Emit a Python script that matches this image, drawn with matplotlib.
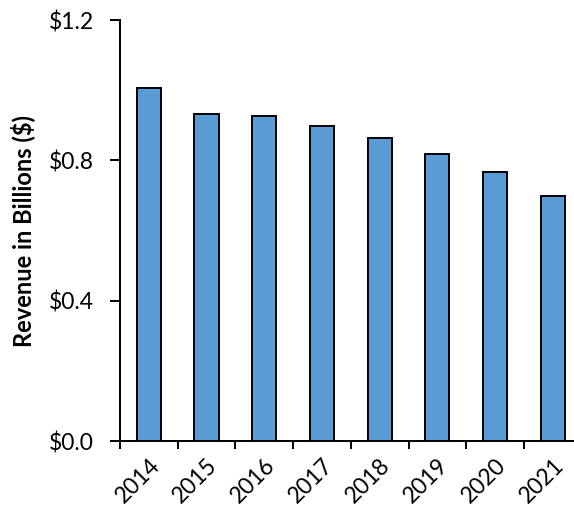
import numpy as np
import matplotlib.pyplot as plt
from matplotlib.ticker import FixedLocator, FuncFormatter

years = ["2014", "2015", "2016", "2017", "2018", "2019", "2020", "2021"]
revenue = [1.006, 0.932, 0.926, 0.898, 0.864, 0.818, 0.767, 0.698]
y_ticks = [0.0, 0.4, 0.8, 1.2]

plt.rcParams['font.family'] = ['Lato', 'DejaVu Sans']

fig = plt.figure(figsize=(5.74, 5.11), dpi=100)
ax = fig.add_axes([120 / 574, 70 / 511, 461.6 / 574, 421 / 511])

x = np.arange(len(years))
ax.bar(x, revenue, width=0.42, color="#5B9BD5", edgecolor="black", linewidth=1.4)

ax.set_xlim(-0.5, len(years) - 0.5)
ax.set_ylim(0, 1.2)
ax.set_yticks(y_ticks)
ax.yaxis.set_major_formatter(FuncFormatter(lambda v, p: "${:.1f}".format(v)))

# ticks sit between the categories, labels under the bars
ax.xaxis.set_major_locator(FixedLocator(np.arange(-0.5, len(years), 1.0)))
ax.xaxis.set_major_formatter(FuncFormatter(lambda v, p: ""))
ax.set_xticks(x, minor=True)
ax.set_xticklabels(years, minor=True, rotation=45, ha="right", rotation_mode="anchor", fontsize=16.5)
ax.tick_params(axis="x", which="minor", length=0, pad=10)
ax.tick_params(axis="x", which="major", direction="out", length=6, width=1.4)
ax.tick_params(axis="y", direction="out", length=7, width=1.4, labelsize=16.5, pad=12)

for side in ["top", "right"]:
    ax.spines[side].set_visible(False)
for side in ["left", "bottom"]:
    ax.spines[side].set_linewidth(1.4)

ax.set_ylabel("Revenue in Billions ($)", fontsize=17, fontweight="bold", labelpad=10)

fig.savefig("out.png", dpi=100)
